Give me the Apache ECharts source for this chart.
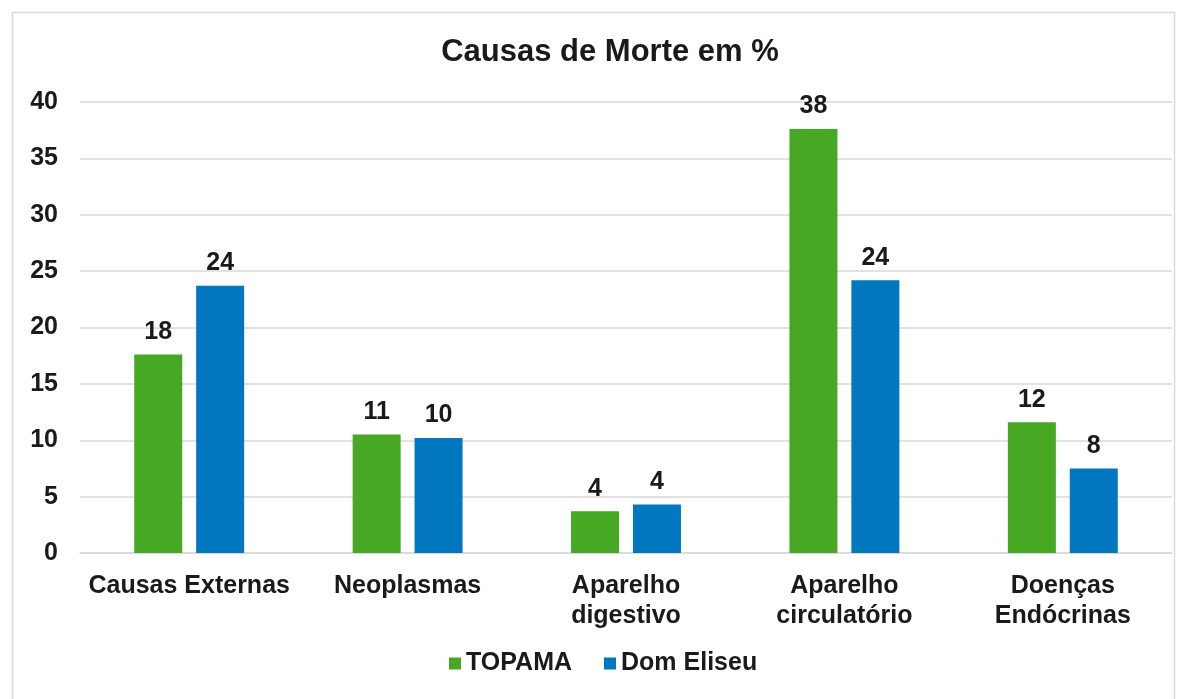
<!DOCTYPE html>
<html>
<head>
<meta charset="utf-8">
<title>Causas de Morte em %</title>
<script src="https://cdn.jsdelivr.net/npm/echarts@6/dist/echarts.min.js"></script>
<style>
  html, body { margin: 0; padding: 0; background: #fff; }
  #chart { width: 1187px; height: 699px; }
</style>
</head>
<body>
<div id="chart"></div>
<script>
const categories = ['Causas Externas', 'Neoplasmas', 'Aparelho\ndigestivo', 'Aparelho\ncirculatório', 'Doenças\nEndócrinas']
const topama = [17.6, 10.5, 3.7, 37.6, 11.6]
const domEliseu = [23.7, 10.2, 4.3, 24.2, 7.5]
const seriesNames = ['TOPAMA', 'Dom Eliseu']

const font = 'Liberation Sans, Arial, sans-serif'
const textColor = '#1a1a1a'

const chart = echarts.init(document.getElementById('chart'))

// rótulos arredondados como no original
const barLabel = {
  show: true,
  position: 'top',
  distance: 10,
  color: textColor,
  fontFamily: font,
  fontWeight: 'bold',
  fontSize: 25,
  formatter: (p) => Math.round(p.value)
}

chart.setOption({
  animation: false,
  graphic: [{
    type: 'rect',
    shape: { x: 12.5, y: 12.5, width: 1162, height: 700 },
    style: { fill: 'none', stroke: '#d9d9d9', lineWidth: 1.5 },
    silent: true
  }],
  title: {
    text: 'Causas de Morte em %',
    left: 605,
    top: 32,
    textAlign: 'center',
    textStyle: { fontFamily: font, fontWeight: 'bold', fontSize: 31, color: textColor }
  },
  legend: {
    data: seriesNames,
    top: 646,
    left: 444,
    icon: 'rect',
    itemWidth: 12,
    itemHeight: 12,
    itemGap: 32,
    textStyle: { fontFamily: font, fontWeight: 'bold', fontSize: 25, color: textColor }
  },
  grid: { left: 80, right: 15, top: 102, bottom: 146 },
  xAxis: {
    type: 'category',
    data: categories,
    axisLine: { lineStyle: { color: '#d9d9d9', width: 1.5 } },
    axisTick: { show: false },
    axisLabel: {
      color: textColor,
      fontFamily: font,
      fontWeight: 'bold',
      fontSize: 25,
      margin: 18,
      lineHeight: 30,
      interval: 0
    }
  },
  yAxis: {
    type: 'value',
    min: 0,
    max: 40,
    interval: 5,
    axisLine: { show: false },
    axisTick: { show: false },
    splitLine: { lineStyle: { color: '#d9d9d9', width: 1.5 } },
    axisLabel: {
      color: textColor,
      fontFamily: font,
      fontWeight: 'bold',
      fontSize: 25,
      margin: 22
    }
  },
  series: [
    {
      name: seriesNames[0],
      type: 'bar',
      data: topama,
      barWidth: 48,
      barGap: '29%',
      itemStyle: { color: '#46a823' },
      label: barLabel
    },
    {
      name: seriesNames[1],
      type: 'bar',
      data: domEliseu,
      barWidth: 48,
      itemStyle: { color: '#0077be' },
      label: barLabel
    }
  ]
})
</script>
</body>
</html>
